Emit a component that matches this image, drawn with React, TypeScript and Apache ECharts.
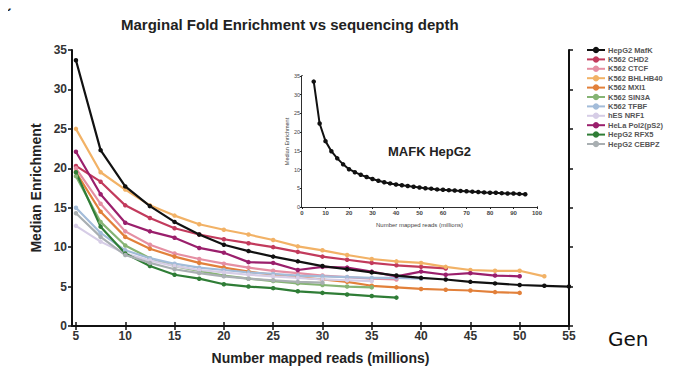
import React, { useEffect, useRef } from "react";
import * as echarts from "echarts";

const depths = [5, 7.5, 10, 12.5, 15, 17.5, 20, 22.5, 25, 27.5, 30, 32.5, 35, 37.5, 40, 42.5, 45, 47.5, 50, 52.5, 55];
const xTicks = [5, 10, 15, 20, 25, 30, 35, 40, 45, 50, 55];

const seriesNames = [
  "HepG2 MafK", "K562 CHD2", "K562 CTCF", "K562 BHLHB40", "K562 MXI1", "K562 SIN3A",
  "K562 TFBF", "hES NRF1", "HeLa Pol2(pS2)", "HepG2 RFX5", "HepG2 CEBPZ",
];
const seriesColors = [
  "#111111", "#c23a5c", "#e58fa3", "#f2b266", "#e2803a", "#86b474",
  "#a3bcd9", "#d6cde6", "#9a1f6c", "#2f7d36", "#a9afb2",
];

const mafk = [33.7, 22.3, 17.7, 15.2, 13.2, 11.6, 10.3, 9.5, 8.8, 8.2, 7.6, 7.2, 6.8, 6.4, 6.1, 5.9, 5.6, 5.4, 5.2, 5.1, 5.0];
const chd2 = [20.3, 18.3, 15.3, 13.7, 12.4, 11.6, 11.0, 10.5, 10.0, 9.4, 8.8, 8.4, 8.0, 7.7, 7.5, 7.3];
const ctcf = [20.0, 15.5, 12.0, 10.3, 9.2, 8.5, 7.9, 7.4, 7.0, 6.7, 6.4, 6.2, 6.0, 5.9];
const bhlhb40 = [25.0, 19.5, 17.3, 15.3, 14.0, 12.9, 12.2, 11.6, 10.9, 10.1, 9.6, 9.0, 8.5, 8.2, 8.0, 7.5, 7.1, 7.0, 7.0, 6.3];
const mxi1 = [19.5, 14.5, 11.3, 9.8, 8.8, 8.0, 7.4, 6.9, 6.5, 6.2, 5.9, 5.6, 5.1, 4.9, 4.7, 4.6, 4.5, 4.3, 4.2];
const sin3a = [19.0, 13.2, 10.2, 8.6, 7.6, 7.0, 6.4, 6.0, 5.7, 5.4, 5.2, 5.0, 4.9];
const tfbf = [15.0, 11.8, 9.6, 8.6, 7.9, 7.4, 7.1, 6.8, 6.6, 6.4, 6.3, 6.2, 6.1, 6.1, 6.0];
const nrf1 = [12.7, 10.7, 9.2, 8.3, 7.6, 7.1, 6.8, 6.5, 6.3, 6.1, 5.9, 5.8, 5.7];
const helaPol2 = [22.1, 16.7, 13.1, 12.0, 11.2, 9.9, 9.3, 8.1, 8.0, 7.1, 7.5, 7.4, 6.9, 6.3, 6.9, 6.5, 6.7, 6.4, 6.3];
const rfx5 = [19.5, 12.6, 9.2, 7.6, 6.5, 6.0, 5.3, 5.0, 4.8, 4.4, 4.2, 4.0, 3.8, 3.6];
const cebpz = [14.3, 11.3, 9.0, 8.0, 7.2, 6.7, 6.3, 6.0, 5.8, 5.6, 5.5];

const seriesValues = [mafk, chd2, ctcf, bhlhb40, mxi1, sin3a, tfbf, nrf1, helaPol2, rfx5, cebpz];

const insetDepths = [5, 7.5, 10, 12.5, 15, 17.5, 20, 22.5, 25, 27.5, 30, 32.5, 35, 37.5, 40, 42.5, 45, 47.5, 50, 52.5, 55, 57.5, 60, 62.5, 65, 67.5, 70, 72.5, 75, 77.5, 80, 82.5, 85, 87.5, 90, 92.5, 95];
const insetMafk = [33.5, 22.3, 17.6, 14.9, 13.0, 11.4, 10.1, 9.3, 8.6, 8.0, 7.5, 7.0, 6.6, 6.3, 6.0, 5.8, 5.6, 5.4, 5.2, 5.0, 4.9, 4.7, 4.6, 4.5, 4.4, 4.3, 4.2, 4.1, 4.0, 3.9, 3.8, 3.8, 3.7, 3.6, 3.6, 3.5, 3.4];

const FONT = "Liberation Sans";

export default function App() {
  const ref = useRef<HTMLDivElement>(null);
  useEffect(() => {
    if (!ref.current) return;
    const chart = echarts.init(ref.current, null, { renderer: "svg" });
    const axisLine = { lineStyle: { color: "#111", width: 2 } };
    const mainSeries = seriesNames.map((name, i) => ({
      name,
      type: "line",
      xAxisIndex: 0,
      yAxisIndex: 0,
      data: seriesValues[i].map((v, j) => [depths[j], v]),
      symbol: "circle",
      symbolSize: 4.5,
      lineStyle: { width: 2.2, color: seriesColors[i] },
      itemStyle: { color: seriesColors[i] },
      z: i === 0 ? 5 : 3,
    }));
    const option: any = {
      animation: false,
      backgroundColor: "#fff",
      textStyle: { fontFamily: FONT },
      title: {
        text: "Marginal Fold Enrichment vs sequencing depth",
        left: 116,
        top: 12,
        textStyle: { fontSize: 15, fontWeight: "bold", color: "#222", fontFamily: FONT },
      },
      legend: {
        orient: "vertical",
        left: 581,
        top: 41,
        itemGap: 1.4,
        itemWidth: 18,
        itemHeight: 8,
        data: seriesNames,
        textStyle: { fontSize: 7.5, fontWeight: "bold", color: "#555", fontFamily: FONT, padding: [0, 0, 0, -2] },
      },
      grid: [
        { left: 72, right: 124, top: 50, bottom: 50 },
        { left: 302, top: 76, width: 235, height: 131, show: true, backgroundColor: "#fff", borderWidth: 0, z: 4 },
      ],
      xAxis: [
        {
          type: "value", gridIndex: 0, min: 4.6, max: 55, position: "bottom",
          axisLine, splitLine: { show: false },
          axisTick: { customValues: xTicks, length: 4, lineStyle: { color: "#111", width: 1.5 } },
          axisLabel: { customValues: xTicks, fontSize: 12, fontWeight: "bold", color: "#333", margin: 4 },
          name: "Number mapped reads (millions)", nameLocation: "middle", nameGap: 25,
          nameTextStyle: { fontSize: 14, fontWeight: "bold", color: "#222" },
        },
        {
          type: "value", gridIndex: 0, min: 4.6, max: 55, position: "top",
          axisLine, splitLine: { show: false },
          axisTick: { customValues: xTicks, length: 4, lineStyle: { color: "#111", width: 1.5 } },
          axisLabel: { show: false },
        },
        {
          type: "value", gridIndex: 1, min: 0, max: 100, interval: 10, position: "bottom",
          axisLine: { lineStyle: { color: "#222", width: 1.5 } }, splitLine: { show: false },
          axisTick: { length: 2, lineStyle: { color: "#222" } },
          axisLabel: { fontSize: 6, color: "#444", margin: 3, fontWeight: "bold" },
          name: "Number mapped reads (millions)", nameLocation: "middle", nameGap: 15,
          nameTextStyle: { fontSize: 6, color: "#444" },
        },
        {
          type: "value", gridIndex: 1, min: 0, max: 100, interval: 10, position: "top",
          axisLine: { lineStyle: { color: "#222", width: 1.5 } }, splitLine: { show: false },
          axisTick: { length: 2, inside: true, lineStyle: { color: "#222" } },
          axisLabel: { show: false },
        },
      ],
      yAxis: [
        {
          type: "value", gridIndex: 0, min: 0, max: 35, interval: 5, position: "left",
          axisLine, splitLine: { show: false },
          axisTick: { length: 4, lineStyle: { color: "#111", width: 1.5 } },
          axisLabel: { fontSize: 12, fontWeight: "bold", color: "#333", margin: 5 },
          name: "Median Enrichment", nameLocation: "middle", nameGap: 23,
          nameTextStyle: { fontSize: 14, fontWeight: "bold", color: "#222" },
        },
        {
          type: "value", gridIndex: 0, min: 0, max: 35, interval: 5, position: "right",
          axisLine, splitLine: { show: false },
          axisTick: { length: 4, lineStyle: { color: "#111", width: 1.5 } },
          axisLabel: { show: false },
        },
        {
          type: "value", gridIndex: 1, min: 0, max: 35, interval: 5, position: "left",
          axisLine: { lineStyle: { color: "#222", width: 1.5 } }, splitLine: { show: false },
          axisTick: { length: 2, lineStyle: { color: "#222" } },
          axisLabel: { fontSize: 5.5, color: "#444", margin: 2 },
          name: "Median Enrichment", nameLocation: "middle", nameGap: 12,
          nameTextStyle: { fontSize: 5.5, color: "#444" },
        },
        {
          type: "value", gridIndex: 1, min: 0, max: 35, interval: 5, position: "right",
          axisLine: { lineStyle: { color: "#222", width: 1.5 } }, splitLine: { show: false },
          axisTick: { show: false },
          axisLabel: { show: false },
        },
      ],
      series: [
        ...mainSeries,
        {
          name: "inset",
          type: "line",
          xAxisIndex: 2,
          yAxisIndex: 2,
          data: insetMafk.map((v, j) => [insetDepths[j], v]),
          symbol: "circle",
          symbolSize: 4.5,
          lineStyle: { width: 2, color: "#111" },
          itemStyle: { color: "#111" },
          z: 6,
        },
      ],
      graphic: [
        { type: "text", left: 4, top: 0, style: { text: "c", font: `bold 13px ${FONT}`, fill: "#222" } },
        { type: "text", left: 388, top: 145, z: 10, style: { text: "MAFK HepG2", font: `bold 13px ${FONT}`, fill: "#222" } },
        { type: "text", left: 608, top: 329, style: { text: "Gen", font: `20px "DejaVu Sans"`, fill: "#111" } },
      ],
    };
    chart.setOption(option);
    return () => chart.dispose();
  }, []);
  return <div ref={ref} style={{ width: 693, height: 376, margin: -8 }} />;
}
